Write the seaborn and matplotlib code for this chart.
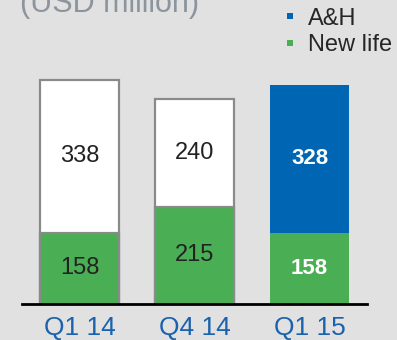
import matplotlib
matplotlib.use("Agg")
import matplotlib.pyplot as plt
from matplotlib.lines import Line2D
import seaborn as sns
import pandas as pd

quarters = ["Q1 14", "Q4 14", "Q1 15"]
new_life = [158, 215, 158]
ah = [338, 240, 328]

BG = "#e1e1e1"
GREEN = "#4aae55"
BLUE = "#0066b3"
EDGE = "#8a8a8a"
TICK_BLUE = "#1a62ad"

sns.set_theme(style="white")
plt.rcParams["font.family"] = ["Liberation Sans", "DejaVu Sans"]

df = pd.DataFrame({"quarter": quarters, "new_life": new_life, "ah": ah})
df["total"] = df["new_life"] + df["ah"]

fig = plt.figure(figsize=(3.97, 3.40), dpi=100, facecolor=BG)
ax = fig.add_axes([22 / 397, 1 - 304 / 340, 345 / 397, 0.85])
ax.set_facecolor(BG)

top_colors = ["white", "white", BLUE]
sns.barplot(data=df, x="quarter", y="total", hue="quarter", palette=top_colors,
            legend=False, width=0.68, saturation=1, ax=ax)
sns.barplot(data=df, x="quarter", y="new_life", color=GREEN, width=0.68,
            saturation=1, ax=ax)

patches = ax.patches
for i, p in enumerate(patches):
    idx = i % 3
    if idx < 2:
        p.set_edgecolor(EDGE)
        p.set_linewidth(1.6)
    else:
        p.set_linewidth(0)

ax.set_xlim(-0.5, 2.5)
ax.set_ylim(0, 640)
ax.set_xlabel("")
ax.set_ylabel("")
ax.set_yticks([])
for s in ["top", "left", "right"]:
    ax.spines[s].set_visible(False)
ax.spines["bottom"].set_color("black")
ax.spines["bottom"].set_linewidth(2)
ax.tick_params(axis="x", length=0, pad=9, labelsize=19, labelcolor=TICK_BLUE)

for i in range(3):
    bold = i == 2
    c = "white" if bold else "#222222"
    ax.text(i, new_life[i] + ah[i] / 2, str(ah[i]), ha="center", va="center",
            fontsize=16 if bold else 17, color=c,
            fontweight="bold" if bold else "normal")
    ax.text(i, new_life[i] / 2, str(new_life[i]), ha="center", va="center",
            fontsize=16 if bold else 17, color=c,
            fontweight="bold" if bold else "normal")

fig.text(20 / 397, 1 - 12 / 340, "(USD million)", fontsize=22, color="#8c959d",
         ha="left", va="baseline")

handles = [Line2D([], [], marker="s", linestyle="none", markersize=4.5,
                  markerfacecolor=BLUE, markeredgewidth=0),
           Line2D([], [], marker="s", linestyle="none", markersize=4.5,
                  markerfacecolor=GREEN, markeredgewidth=0)]
fig.legend(handles, ["A&H", "New life"], loc="upper left",
           bbox_to_anchor=(278 / 397, 1 - 3 / 340), frameon=False,
           fontsize=17, handlelength=0.6, handletextpad=0.45,
           labelspacing=0.2, borderpad=0.2, borderaxespad=0)

fig.savefig("out.png", dpi=100, facecolor=BG)
